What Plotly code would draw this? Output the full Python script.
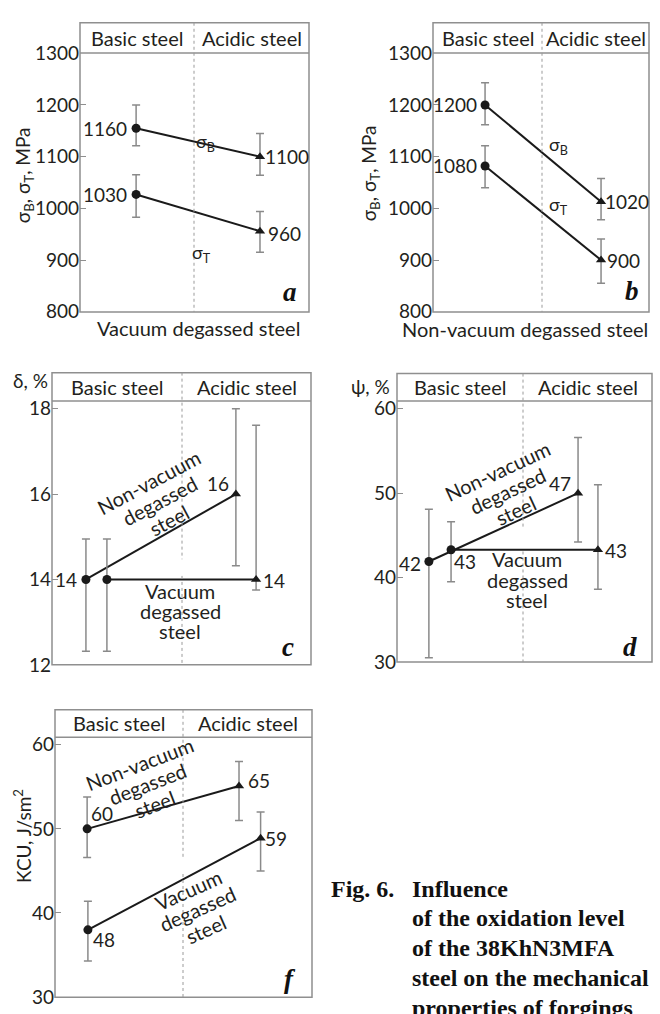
import math
import plotly.graph_objects as go

W, H = 660, 1014


def X(px):
    return px / W


def Y(py):
    return 1 - py / H


FONT = "Lato, 'Open Sans', 'DejaVu Sans', sans-serif"
SERIF = "'Liberation Serif', 'Times New Roman', serif"
TXT = "#231f20"
FRAME = "#8f8f8f"
ERR = "#8a8a8a"
LINE = "#1a1a1a"

# ---------------- data ----------------
header_labels = ["Basic steel", "Acidic steel"]
symbols = ["circle", "triangle-up"]

# a: vacuum degassed steel, strength (MPa)
a_x = [0.245, 0.786]
a_sb = [1155, 1100]
a_sb_hi = [1200, 1145]
a_sb_lo = [1121, 1064]
a_st = [1027, 956]
a_st_hi = [1065, 994]
a_st_lo = [983, 915]
a_sb_text = ["1160", "1100"]
a_st_text = ["1030", "960"]

# b: non-vacuum degassed steel, strength (MPa)
b_x = [0.241, 0.778]
b_sb = [1200, 1013]
b_sb_hi = [1243, 1058]
b_sb_lo = [1162, 978]
b_st = [1082, 900]
b_st_hi = [1121, 941]
b_st_lo = [1040, 855]
b_sb_text = ["1200", "1020"]
b_st_text = ["1080", "900"]

# c: elongation delta, %
c_x_nv = [0.131, 0.710]
c_nv = [14.0, 16.0]
c_nv_hi = [14.95, 18.0]
c_nv_lo = [12.32, 14.32]
c_x_v = [0.212, 0.788]
c_v = [14.0, 14.0]
c_v_hi = [14.95, 17.61]
c_v_lo = [12.32, 13.75]
c_nv_text = ["14", "16"]
c_v_text = ["", "14"]

# d: reduction of area psi, %
d_x_nv = [0.125, 0.710]
d_nv = [41.9, 50.0]
d_nv_hi = [48.1, 56.6]
d_nv_lo = [30.5, 44.2]
d_x_v = [0.212, 0.788]
d_v = [43.3, 43.3]
d_v_hi = [46.6, 51.0]
d_v_lo = [39.5, 38.6]
d_nv_text = ["42", "47"]
d_v_text = ["43", "43"]

# f: impact strength KCU
f_x_nv = [0.125, 0.716]
f_nv = [50.0, 55.1]
f_nv_hi = [53.8, 58.0]
f_nv_lo = [46.6, 51.0]
f_x_v = [0.128, 0.800]
f_v = [38.0, 48.9]
f_v_hi = [41.4, 52.0]
f_v_lo = [34.3, 45.0]
f_nv_text = ["60", "65"]
f_v_text = ["48", "59"]

ticks_ab = [800, 900, 1000, 1100, 1200, 1300]
ticks_c = [12, 14, 16, 18]
ticks_df = [30, 40, 50, 60]

caption_head = "Fig. 6."
caption_lines = ["Influence", "of the oxidation level", "of the 38KhN3MFA",
                 "steel on the mechanical", "properties of forgings"]

# ---------------- panel geometry (pixels) ----------------
panels = {
    "a": dict(l=80, t=11, r=309, b=307, hb=42, dv=194, yr=[799.5, 1300.5], tv=ticks_ab,
              seg=[(11, 307)], ax=1),
    "b": dict(l=433, t=11, r=649, b=307, hb=42, dv=542, yr=[799.5, 1300.5], tv=ticks_ab,
              seg=[(11, 307)], ax=2),
    "c": dict(l=52, t=369, r=311, b=668, hb=398, dv=182, yr=[12, 18.18], tv=ticks_c,
              seg=[(369, 560), (577, 668)], ax=3),
    "d": dict(l=397, t=370, r=652, b=665, hb=398, dv=523, yr=[30, 60.93], tv=ticks_df,
              seg=[(370, 527), (552, 665)], ax=4),
    "f": dict(l=55, t=714, r=312, b=1008, hb=742, dv=183, yr=[30, 60.9], tv=ticks_df,
              seg=[(714, 867), (882, 1008)], ax=5),
}

fig = go.Figure()
layout = dict(width=W, height=H, margin=dict(l=0, r=0, t=0, b=0),
              paper_bgcolor="white", plot_bgcolor="rgba(0,0,0,0)",
              showlegend=False, font=dict(family=FONT, color=TXT, size=20))
shapes = []
annotations = []


def ann(text, px, py, size=20, xanchor="center", yanchor="middle", angle=0,
        family=FONT, color=TXT):
    annotations.append(dict(text=text, x=X(px), y=Y(py), xref="paper", yref="paper",
                            xanchor=xanchor, yanchor=yanchor, textangle=angle,
                            showarrow=False, font=dict(family=family, size=size, color=color)))


def block(lines, cx, cy, ang, sp, size=20):
    n = len(lines)
    th = math.radians(ang)
    dx, dy = math.sin(th), math.cos(th)
    for i, t in enumerate(lines):
        k = (i - (n - 1) / 2) * sp
        ann(t, cx + k * dx, cy + k * dy, size=size, angle=-ang)


for key, p in panels.items():
    i = p["ax"]
    layout[f"xaxis{i}"] = dict(domain=[X(p["l"]), X(p["r"])], range=[0, 1], visible=False,
                               fixedrange=True, anchor=f"y{i}")
    layout[f"yaxis{i}"] = dict(domain=[Y(p["b"]), Y(p["hb"])], range=p["yr"], tickvals=p["tv"],
                               ticks="inside", ticklen=6, tickwidth=1.2, tickcolor=FRAME,
                               showgrid=False, zeroline=False, showline=False,
                               tickfont=dict(family=FONT, size=19, color=TXT),
                               anchor=f"x{i}", fixedrange=True)
    shapes.append(dict(type="rect", xref="paper", yref="paper", x0=X(p["l"]), x1=X(p["r"]),
                       y0=Y(p["b"]), y1=Y(p["t"]), line=dict(color=FRAME, width=1.5)))
    shapes.append(dict(type="line", xref="paper", yref="paper", x0=X(p["l"]), x1=X(p["r"]),
                       y0=Y(p["hb"]), y1=Y(p["hb"]), line=dict(color=FRAME, width=1.5)))
    for (y0, y1) in p["seg"]:
        shapes.append(dict(type="line", xref="paper", yref="paper", x0=X(p["dv"]), x1=X(p["dv"]),
                           y0=Y(y0), y1=Y(y1), line=dict(color="#9a9a9a", width=1, dash="dot")))
    hy = (p["t"] + p["hb"]) / 2
    ann(header_labels[0], (p["l"] + p["dv"]) / 2, hy)
    ann(header_labels[1], (p["dv"] + p["r"]) / 2, hy)


def series(ax, xs, ys, hi, lo):
    fig.add_trace(go.Scatter(
        x=xs, y=ys, mode="lines+markers", xaxis=f"x{ax}", yaxis=f"y{ax}",
        line=dict(color=LINE, width=2),
        marker=dict(symbol=symbols, size=9, color=LINE),
        error_y=dict(type="data", symmetric=False,
                     array=[h - v for h, v in zip(hi, ys)],
                     arrayminus=[v - l for l, v in zip(lo, ys)],
                     color=ERR, thickness=1.5, width=4),
        cliponaxis=False, hoverinfo="skip"))


def labels(ax, xs, ys, texts, specs):
    for xv, yv, t, (xa, xs_, ys_) in zip(xs, ys, texts, specs):
        if not t:
            continue
        annotations.append(dict(text=t, x=xv, y=yv, xref=f"x{ax}", yref=f"y{ax}",
                                xanchor=xa, yanchor="middle", xshift=xs_, yshift=ys_,
                                showarrow=False, font=dict(family=FONT, size=19, color=TXT)))


# panel a
series(1, a_x, a_sb, a_sb_hi, a_sb_lo)
series(1, a_x, a_st, a_st_hi, a_st_lo)
labels(1, a_x, a_sb, a_sb_text, [("right", -7, 0), ("left", 3, 0)])
labels(1, a_x, a_st, a_st_text, [("right", -7, 0), ("left", 6, -2)])
ann("σ<sub>B</sub>", 205, 134, size=18)
ann("σ<sub>T</sub>", 202, 247, size=18)
ann("Vacuum degassed steel", 198, 323, size=20)
ann("σ<sub>B</sub>, σ<sub>T</sub>, MPa", 24, 167, size=19, angle=-90)
ann("<b><i>a</i></b>", 290, 287, size=27, family=SERIF, color="#111")

# panel b
series(2, b_x, b_sb, b_sb_hi, b_sb_lo)
series(2, b_x, b_st, b_st_hi, b_st_lo)
labels(2, b_x, b_sb, b_sb_text, [("right", -6, 0), ("left", 2, 0)])
labels(2, b_x, b_st, b_st_text, [("right", -6, 0), ("left", 4, 0)])
ann("σ<sub>B</sub>", 558, 137, size=18)
ann("σ<sub>T</sub>", 558, 198, size=18)
ann("Non-vacuum degassed steel", 525, 324, size=20)
ann("σ<sub>B</sub>, σ<sub>T</sub>, MPa", 370, 165, size=19, angle=-90)
ann("<b><i>b</i></b>", 632, 285, size=27, family=SERIF, color="#111")

# panel c
series(3, c_x_nv, c_nv, c_nv_hi, c_nv_lo)
series(3, c_x_v, c_v, c_v_hi, c_v_lo)
labels(3, c_x_nv, c_nv, c_nv_text, [("right", -7, 0), ("right", -5, 11)])
labels(3, c_x_v, c_v, c_v_text, [("left", 0, 0), ("left", 5, -1)])
block(["Non-vacuum", "degassed", "steel"], 159, 500, 28, 22)
block(["Vacuum", "degassed", "steel"], 180, 613, 0, 20.5)
ann("δ, %", 50, 377, size=19, xanchor="right")
ann("<b><i>c</i></b>", 288, 650, size=27, family=SERIF, color="#111")

# panel d
series(4, d_x_nv, d_nv, d_nv_hi, d_nv_lo)
series(4, d_x_v, d_v, d_v_hi, d_v_lo)
labels(4, d_x_nv, d_nv, d_nv_text, [("right", -6, -2), ("right", -5, 10)])
labels(4, d_x_v, d_v, d_v_text, [("left", 1, -12), ("left", 5, -1)])
block(["Non-vacuum", "degassed", "steel"], 507, 490, 25, 22)
block(["Vacuum", "degassed", "steel"], 527, 581, 0, 21)
ann("ψ, %", 392, 383, size=19, xanchor="right")
ann("<b><i>d</i></b>", 630, 650, size=27, family=SERIF, color="#111")

# panel f
series(5, f_x_nv, f_nv, f_nv_hi, f_nv_lo)
series(5, f_x_v, f_v, f_v_hi, f_v_lo)
labels(5, f_x_nv, f_nv, f_nv_text, [("left", 2, 15), ("left", 7, 5)])
labels(5, f_x_v, f_v, f_v_text, [("left", 3, -10), ("left", 2, 0)])
block(["Non-vacuum", "degassed", "steel"], 147, 790, 21, 22)
block(["Vacuum", "degassed", "steel"], 197, 918, 24, 22)
ann("KCU, J/sm<sup>2</sup>", 23, 843, size=19, angle=-90)
ann("<b><i>f</i></b>", 290, 989, size=27, family=SERIF, color="#111")

# caption
cap_top, cap_step = 897, 30.5
ann("<b>" + caption_head + "</b>", 329, cap_top, size=24, xanchor="left", family=SERIF,
    color="#111")
for k, line in enumerate(caption_lines):
    ann("<b>" + line + "</b>", 410, cap_top + cap_step * k, size=24, xanchor="left",
        family=SERIF, color="#111")

layout["shapes"] = shapes
layout["annotations"] = annotations
fig.update_layout(**layout)
fig.write_html("out.html")
